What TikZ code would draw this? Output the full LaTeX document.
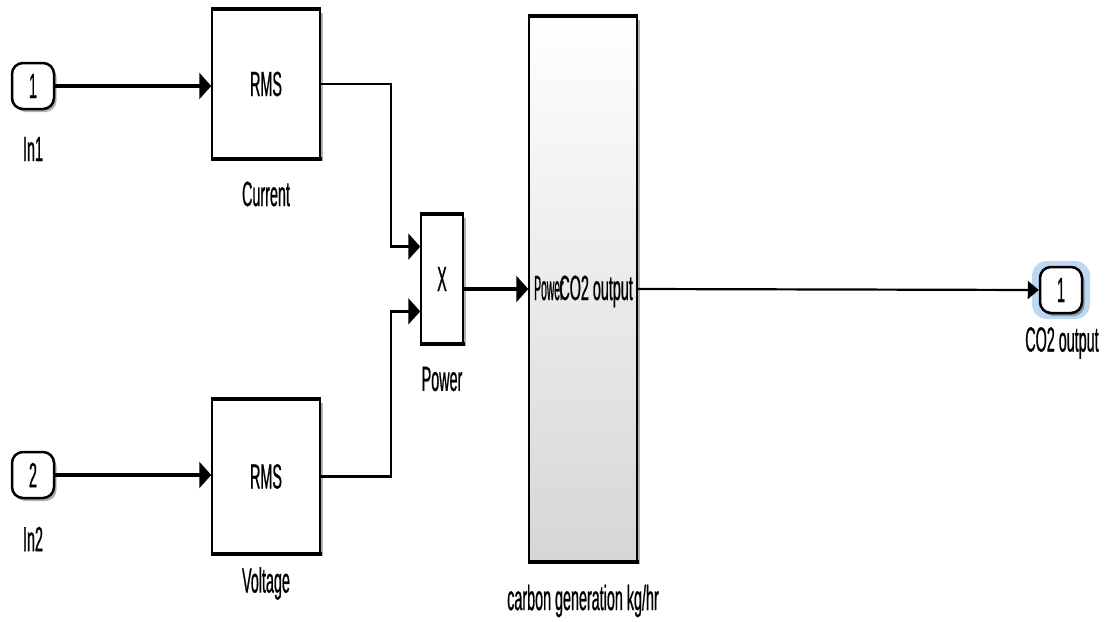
\documentclass[tikz,border=0pt]{standalone}
\usepackage{fontspec}
\setmainfont{Liberation Sans}[FakeStretch=0.41, FakeBold=0.6]
\usetikzlibrary{arrows.meta,shadows,calc}
\definecolor{glow}{RGB}{190,216,242}
\definecolor{blockgray}{RGB}{214,214,214}
\tikzset{
  every node/.style={font=\fontsize{35}{38}\selectfont, inner sep=0pt},
  shade/.style={drop shadow={shadow xshift=2.5pt, shadow yshift=-3pt, opacity=0.3, fill=black}},
  block/.style={draw=black, line width=1.5pt, fill=white, shade},
  port/.style={draw=black, line width=2.5pt, rounded corners=11pt, fill=white,
    minimum width=42pt, minimum height=46pt, shade},
  sig/.style={line width=4.5pt, -{Triangle[length=12pt,width=26pt]}},
  wire/.style={line width=2.5pt, -{Triangle[length=12pt,width=26pt]}},
  thin wire/.style={line width=2.2pt, -{Triangle[length=11pt,width=18pt]}},
  rim/.style={line width=4pt, shorten <=-0.75pt, shorten >=-0.75pt},
}
\begin{document}
\begin{tikzpicture}[x=1pt,y=-1pt]
\useasboundingbox (0,0) rectangle (1108,621);

% input ports
\node[port] (in1) at (33,86) {1};
\node (in1lbl) at (33,149) {In1};
\node[port] (in2) at (33,475) {2};
\node (in2lbl) at (33,539) {In2};

% RMS blocks
\node[block, minimum width=108pt, minimum height=148pt] (cur) at (266,84) {RMS};
\node (curlbl) at (266,194) {Current};
\node[block, minimum width=108pt, minimum height=153pt] (vol) at (266,476.5) {RMS};
\node (vollbl) at (266,583.5) {Voltage};

% product block
\node[block, minimum width=42pt, minimum height=128pt] (pow) at (442,279) {X};
\node (powlbl) at (442,379) {Power};

% subsystem block with its port labels
\node[block, top color=white, bottom color=blockgray, minimum width=108pt, minimum height=544pt] (carb) at (583,289) {};
\node[anchor=base west] (carbin) at (534,300) {\scalebox{0.72}[1]{Power}};
\node[anchor=base east] (carbout) at (633,300) {CO2 output};
\node (carblbl) at (583,601) {carbon generation kg/hr};

% output port with selection glow
\fill[glow, rounded corners=15pt] (1032,261) rectangle (1090,319);
\node[port] (out) at (1061,290) {1};
\node (outlbl) at (1062,343) {CO2 output};

% heavier top and bottom edges
\foreach \b in {cur,vol,pow,carb}
  \draw[rim] (\b.north west) -- (\b.north east) (\b.south west) -- (\b.south east);

% signal lines
\coordinate (powin1) at ($(pow.north west)!0.25!(pow.south west)$);
\coordinate (powin2) at ($(pow.north west)!0.75!(pow.south west)$);
\coordinate (powout) at ([yshift=-10pt]pow.east);
\draw[sig] (in1.east) -- (in1.east -| cur.west);
\draw[sig] (in2.east) -- (in2.east -| vol.west);
\draw[wire] (cur.east) -- (391,84) |- (powin1);
\draw[wire] (vol.east) -- (391,476.5) |- (powin2);
\draw[sig] (powout) -- (powout -| carb.west);
\draw[thin wire] (carb.east) -- (out.west);
\end{tikzpicture}
\end{document}
